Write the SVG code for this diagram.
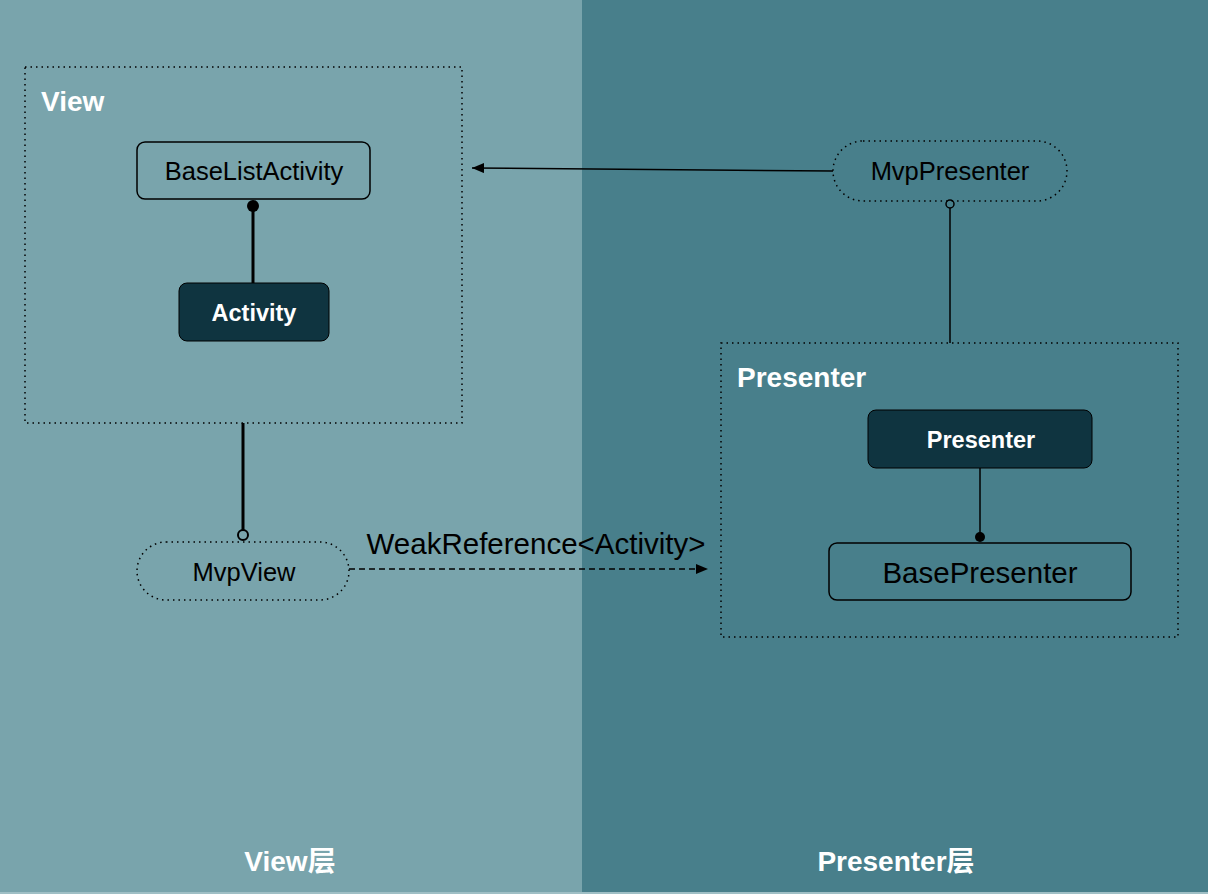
<svg xmlns="http://www.w3.org/2000/svg" width="1208" height="894" viewBox="0 0 1208 894">
<style>
.t{font-family:"Liberation Sans",Arial,"Noto Sans CJK SC",sans-serif;}
.lbl{fill:#fff;font-weight:bold;font-size:28px;}
.nodeText{fill:#000;font-size:25.5px;text-anchor:middle;}
.darkText{fill:#fff;font-size:23.5px;font-weight:bold;text-anchor:middle;}
.box{fill:none;stroke:#000;stroke-width:1.5;}
.dark{fill:#0F3440;stroke:#000;stroke-width:1;}
.dot{fill:none;stroke:#000;stroke-width:1.5;stroke-dasharray:1.5 4;}
</style>
<defs>
<marker id="arr" viewBox="0 0 12 10" refX="12" refY="5" markerWidth="12" markerHeight="10" markerUnits="userSpaceOnUse" orient="auto"><path d="M0,0 L12,5 L0,10 Z" fill="#000"/></marker>
</defs>
<rect x="0" y="0" width="582" height="894" fill="#79A4AC"/>
<rect x="582" y="0" width="626" height="894" fill="#487F8B"/>
<rect x="0" y="892" width="1208" height="2" fill="#9fbfc5"/>

<g id="view-container">
<rect class="dot" x="25" y="67" width="437" height="356"/>
<text class="t lbl" x="41" y="111">View</text>
</g>
<g id="presenter-container">
<rect class="dot" x="721" y="343" width="457" height="294"/>
<text class="t lbl" x="737" y="387">Presenter</text>
</g>

<g id="connectors">
<line x1="253" y1="206" x2="253" y2="283" stroke="#000" stroke-width="3"/>
<circle cx="253" cy="206" r="6" fill="#000"/>
<line x1="243" y1="423" x2="243" y2="530" stroke="#000" stroke-width="3"/>
<circle cx="243" cy="535" r="5" fill="none" stroke="#000" stroke-width="2"/>
<line x1="349" y1="569" x2="708" y2="569" stroke="#000" stroke-width="1.5" stroke-dasharray="6 4" marker-end="url(#arr)"/>
<text class="t" x="536" y="554" font-size="29.5" text-anchor="middle" fill="#000">WeakReference&lt;Activity&gt;</text>
<line x1="833" y1="171" x2="472" y2="168" stroke="#000" stroke-width="1.5" marker-end="url(#arr)"/>
<line x1="950" y1="208" x2="950" y2="343" stroke="#000" stroke-width="1.5"/>
<circle cx="950" cy="204" r="4" fill="none" stroke="#000" stroke-width="1.5"/>
<line x1="980" y1="468" x2="980" y2="537" stroke="#000" stroke-width="1.5"/>
<circle cx="980" cy="537" r="5" fill="#000"/>
</g>

<g id="baselistactivity">
<rect class="box" x="137" y="142" width="233" height="57" rx="8"/>
<text class="t nodeText" x="254" y="180">BaseListActivity</text>
</g>
<g id="activity">
<rect class="dark" x="179" y="283" width="150" height="58" rx="8"/>
<text class="t darkText" x="254" y="321">Activity</text>
</g>
<g id="mvpview">
<rect class="dot" x="137" y="542" width="212" height="58" rx="29"/>
<text class="t nodeText" x="244" y="581">MvpView</text>
</g>
<g id="mvppresenter">
<rect class="dot" x="833" y="141" width="234" height="60" rx="30"/>
<text class="t nodeText" x="950" y="180">MvpPresenter</text>
</g>
<g id="presenter">
<rect class="dark" x="868" y="410" width="224" height="58" rx="8"/>
<text class="t darkText" x="981" y="448">Presenter</text>
</g>
<g id="basepresenter">
<rect class="box" x="829" y="543" width="302" height="57" rx="8"/>
<text class="t nodeText" x="980" y="583" style="font-size:29.5px">BasePresenter</text>
</g>

<g id="layer-labels">
<text class="t lbl" x="290" y="871" text-anchor="middle">View层</text>
<text class="t lbl" x="896" y="871" text-anchor="middle">Presenter层</text>
</g>
</svg>
